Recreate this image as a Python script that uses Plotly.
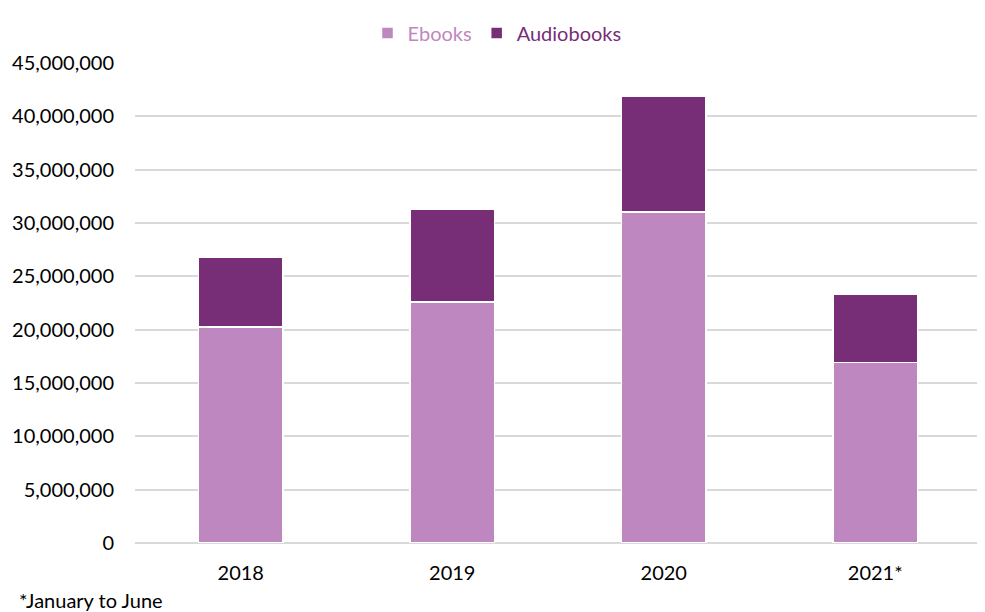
import plotly.graph_objects as go

years = ["2018", "2019", "2020", "2021*"]
ebooks = [20270000, 22600000, 31050000, 16900000]
audiobooks = [6560000, 8670000, 10850000, 6400000]
y_ticks = [0, 5000000, 10000000, 15000000, 20000000, 25000000, 30000000, 35000000, 40000000, 45000000]

c_ebook = "#BF87C0"
c_audio = "#782D77"
font = "Lato, 'Open Sans', sans-serif"

W, H = 977, 604
L, R, T, B = 127, 4, 55, 69
PW, PH = W - L - R, H - T - B

fig = go.Figure()
fig.add_trace(go.Bar(
    x=years, y=ebooks,
    name=f"<span style='color:{c_ebook}'>Ebooks</span>",
    marker=dict(color=c_ebook, line=dict(color="white", width=1.5)),
))
fig.add_trace(go.Bar(
    x=years, y=audiobooks,
    name=f"<span style='color:{c_audio}'>Audiobooks</span>",
    marker=dict(color=c_audio, line=dict(color="white", width=1.5)),
))

fig.update_layout(
    barmode="stack",
    bargap=0.6,
    width=W, height=H,
    margin=dict(l=L, r=R, t=T, b=B, autoexpand=False),
    plot_bgcolor="white", paper_bgcolor="white",
    font=dict(family=font, size=20, color="#000000"),
    showlegend=True,
    legend=dict(orientation="h", x=489 / W, xanchor="center", y=1 - 25 / H, yanchor="middle",
                yref="container", xref="container",
                font=dict(size=20), traceorder="normal", itemwidth=30),
    xaxis=dict(showgrid=False, showline=False, ticks="", ticklabelstandoff=16,
               tickfont=dict(size=20)),
    yaxis=dict(range=[0, 45000000], tickvals=y_ticks, tickformat=",d",
               showgrid=True, gridcolor="#D9D9D9", gridwidth=1.5,
               zeroline=True, zerolinecolor="#D9D9D9", zerolinewidth=1.5,
               showline=False, ticks="", ticklabelstandoff=20,
               tickfont=dict(size=20)),
    annotations=[dict(text="*January to June", xref="paper", yref="paper",
                      x=(9 - L) / PW, y=-57 / PH, xanchor="left", yanchor="middle",
                      showarrow=False, font=dict(size=20))],
)

fig.write_html("out.html")
